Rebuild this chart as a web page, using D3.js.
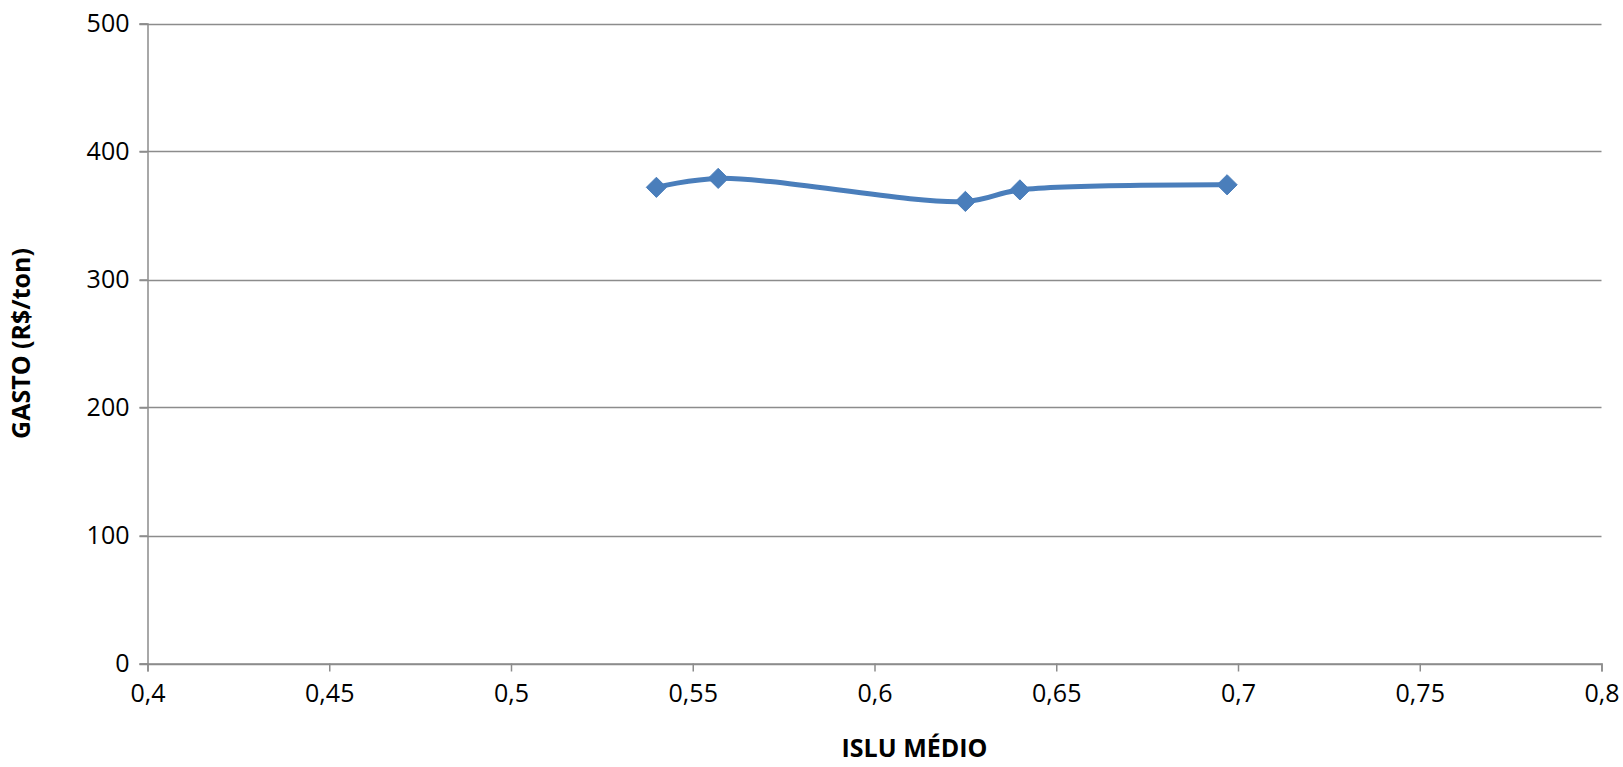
<!DOCTYPE html>
<html>
<head>
<meta charset="utf-8">
<script src="https://cdn.jsdelivr.net/npm/d3@7"></script>
<style>
  html, body { margin: 0; padding: 0; background: #fff; }
  svg { display: block; }
  text { font-family: "Open Sans", sans-serif; fill: #000; }
</style>
</head>
<body>
<svg id="chart" width="1623" height="767"></svg>
<script>
// Data
const isluMedio = [0.540, 0.557, 0.625, 0.640, 0.697];
const gasto = [372, 379, 361, 370, 374];
const xTicks = [0.4, 0.45, 0.5, 0.55, 0.6, 0.65, 0.7, 0.75, 0.8];
const yTicks = [0, 100, 200, 300, 400, 500];
const xTitle = "ISLU MÉDIO";
const yTitle = "GASTO (R$/ton)";

const svg = d3.select("#chart");
const mLeft = 147.5, mRight = 1601.5, mTop = 23.5, mBottom = 663.5;

const x = d3.scaleLinear().domain([0.4, 0.8]).range([mLeft, mRight]);
const y = d3.scaleLinear().domain([0, 500]).range([mBottom, mTop]);
const fmtX = d => d3.format("")(d).replace(".", ",");

const gridColor = "#8c8c8c";

// Gridlines
svg.append("g")
  .selectAll("line")
  .data(yTicks)
  .join("line")
  .attr("x1", mLeft - 8).attr("x2", mRight)
  .attr("y1", d => Math.round(y(d)) + 0.5).attr("y2", d => Math.round(y(d)) + 0.5)
  .attr("stroke", gridColor).attr("stroke-width", 1.5);

// Y axis
const yAxis = svg.append("g")
  .attr("transform", `translate(${mLeft},0)`)
  .call(d3.axisLeft(y).tickValues(yTicks).tickSize(8).tickPadding(10).tickFormat(d3.format("d")));
yAxis.select(".domain").attr("stroke", gridColor).attr("stroke-width", 1.5);
yAxis.selectAll(".tick line").attr("stroke", gridColor).attr("stroke-width", 1.5);
yAxis.selectAll("text").style("font-size", "25px").style("font-family", "Open Sans, sans-serif").attr("fill", "#000");

// X axis
const xAxis = svg.append("g")
  .attr("transform", `translate(0,${mBottom})`)
  .call(d3.axisBottom(x).tickValues(xTicks).tickSize(8).tickPadding(13).tickFormat(fmtX));
xAxis.select(".domain").attr("stroke", gridColor).attr("stroke-width", 1.5);
xAxis.selectAll(".tick line").attr("stroke", gridColor).attr("stroke-width", 1.5);
xAxis.selectAll("text").style("font-size", "25px").style("font-family", "Open Sans, sans-serif").attr("fill", "#000");

// Titles
svg.append("text")
  .attr("x", (mLeft + mRight) / 2 + 40).attr("y", 757)
  .attr("text-anchor", "middle")
  .style("font-size", "25px").style("font-weight", "bold")
  .text(xTitle);

svg.append("text")
  .attr("transform", `translate(30,${(mTop + mBottom) / 2}) rotate(-90)`)
  .attr("text-anchor", "middle")
  .style("font-size", "25px").style("font-weight", "bold")
  .text(yTitle);

// Series
const pts = isluMedio.map((v, i) => [v, gasto[i]]);
const line = d3.line().x(d => x(d[0])).y(d => y(d[1])).curve(d3.curveCatmullRom.alpha(0.5));
svg.append("path")
  .attr("d", line(pts))
  .attr("fill", "none")
  .attr("stroke", "#4a7ebb")
  .attr("stroke-width", 5)
  .attr("stroke-linejoin", "round");

svg.append("g")
  .selectAll("path")
  .data(pts)
  .join("path")
  .attr("d", d3.symbol().type(d3.symbolDiamond2).size(260))
  .attr("transform", d => `translate(${x(d[0])},${y(d[1])})`)
  .attr("fill", "#4a7ebb")
  .attr("stroke", "#4a7ebb")
  .attr("stroke-width", 1);
</script>
</body>
</html>
